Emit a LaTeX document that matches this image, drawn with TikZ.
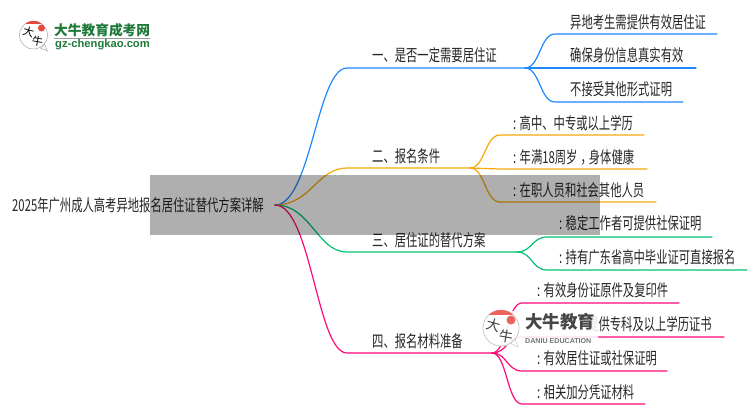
\documentclass[tikz,border=0pt]{standalone}
\usepackage{fontspec}
\setmainfont{Noto Sans CJK SC}[FakeStretch=0.686]
\newfontfamily\cjkplain{Noto Sans CJK SC}
\newfontfamily\latinbold{Liberation Sans}
\usetikzlibrary{calc}
\definecolor{cblue}{HTML}{1E88FF}
\definecolor{corange}{HTML}{F7A90C}
\definecolor{cgreen}{HTML}{00C271}
\definecolor{cpink}{HTML}{FF0A78}
\definecolor{cink}{HTML}{262626}
\definecolor{logogreen}{HTML}{1F7A3A}
\definecolor{logored}{HTML}{E8483F}
\tikzset{
  txt/.style={anchor=west,inner sep=0pt,text=cink,font=\fontsize{16.5}{16.5}\selectfont,text height=14pt,text depth=1.5pt},
  link/.style={line width=1.2pt,line cap=round},
  bubble/.style={draw=black!35,line width=.5pt,fill=white},
}
\newcommand{\trunkline}[3]{\draw[link,#1] (root) .. controls +(36,0) and +(-30,0) .. (#2) -- (#3);}
\newcommand{\leafline}[4]{\draw[link,#1] (#2) .. controls +(15,0) and +(-15,0) .. (#3) -- (#4);}
\begin{document}
\begin{tikzpicture}[x=1pt,y=-1pt]
\useasboundingbox (0,0) rectangle (750,410);
\fill[white] (0,0) rectangle (750,410);

% named points of the map
\coordinate (root) at (275,205);
\coordinate (a1) at (347,68);  \coordinate (j1) at (525,68);
\coordinate (a2) at (347,168); \coordinate (j2) at (470,168);
\coordinate (a3) at (347,252); \coordinate (j3) at (517,252);
\coordinate (a4) at (347,353); \coordinate (j4) at (492,353);

\coordinate (l11s) at (555,34);  \coordinate (l11e) at (717,34);
\coordinate (l12s) at (555,68);  \coordinate (l12e) at (696,68);
\coordinate (l13s) at (555,102); \coordinate (l13e) at (683,102);
\coordinate (l21s) at (500,135); \coordinate (l21e) at (644,135);
\coordinate (l22s) at (500,169); \coordinate (l22e) at (647,169);
\coordinate (l23s) at (500,202); \coordinate (l23e) at (656,202);
\coordinate (l31s) at (547,237); \coordinate (l31e) at (712,237);
\coordinate (l32s) at (547,270); \coordinate (l32e) at (747,270);
\coordinate (l41s) at (522,303); \coordinate (l41e) at (679,303);
\coordinate (l42s) at (522,337); \coordinate (l42e) at (724,337);
\coordinate (l43s) at (522,371); \coordinate (l43e) at (667,371);
\coordinate (l44s) at (522,404); \coordinate (l44e) at (645,404);

% connectors
\trunkline{cblue}{a1}{j1}
\trunkline{corange}{a2}{j2}
\trunkline{cgreen}{a3}{j3}
\trunkline{cpink}{a4}{j4}
\leafline{cblue}{j1}{l11s}{l11e}
\leafline{cblue}{j1}{l12s}{l12e}
\leafline{cblue}{j1}{l13s}{l13e}
\leafline{corange}{j2}{l21s}{l21e}
\leafline{corange}{j2}{l22s}{l22e}
\leafline{corange}{j2}{l23s}{l23e}
\leafline{cgreen}{j3}{l31s}{l31e}
\leafline{cgreen}{j3}{l32s}{l32e}
\leafline{cpink}{j4}{l41s}{l41e}
\leafline{cpink}{j4}{l42s}{l42e}
\leafline{cpink}{j4}{l43s}{l43e}
\leafline{cpink}{j4}{l44s}{l44e}

% texts
\node[txt] (t0) at (12,205) {2025年广州成人高考异地报名居住证替代方案详解};
\node[txt] (b1) at (372,55)  {一、是否一定需要居住证};
\node[txt] (b2) at (372,156) {二、报名条件};
\node[txt] (b3) at (372,240) {三、居住证的替代方案};
\node[txt] (b4) at (372,341) {四、报名材料准备};
\node[txt] (n11) at (570,22) {异地考生需提供有效居住证};
\node[txt] (n12) at (570,55) {确保身份信息真实有效};
\node[txt] (n13) at (570,89) {不接受其他形式证明};
\node[txt] (n21) at (513,123) {: 高中、中专或以上学历};
\node[txt] (n22) at (513,157) {: 年满18周岁\hspace{3pt}，\hspace{-3pt}身体健康};
\node[txt] (n23) at (513,190) {: 在职人员和社会其他人员};
\node[txt] (n31) at (559,223) {: 稳定工作者可提供社保证明};
\node[txt] (n32) at (559,257) {: 持有广东省高中毕业证可直接报名};
\node[txt] (n41) at (537,290) {: 有效身份证原件及复印件};
\node[txt,anchor=east] (n42) at (712,324) {: 提供专科及以上学历证书};
\node[txt] (n43) at (537,358) {: 有效居住证或社保证明};
\node[txt] (n44) at (537,392) {: 相关加分凭证材料};

% top-left logo
\coordinate (lg) at (33.5,35);
\fill[bubble] ($(lg)+(7,13)$) -- ($(lg)+(14,16)$) -- ($(lg)+(11,9)$) -- cycle;
\draw[bubble] (lg) circle (14);
\begin{scope}
  \clip (lg) circle (14);
  \fill[logored] ($(lg)+(-15,-15)$) rectangle ($(lg)+(15,-11)$);
  \fill[logored] ($(lg)+(8,-7)$) circle (3.5);
\end{scope}
\node[inner sep=0pt,rotate=-15,text=black,font=\cjkplain\fontsize{11}{11}\selectfont] (lgA) at ($(lg)+(-5,-3)$) {大};
\node[inner sep=0pt,rotate=-10,text=black,font=\cjkplain\fontsize{11}{11}\selectfont] (lgB) at ($(lg)+(4,6)$) {牛};
\node[anchor=west,inner sep=0pt,text=logogreen,font=\cjkplain\bfseries\fontsize{13.7}{14}\selectfont] (lgT) at (54,30) {大牛教育成考网};
\draw[black!40,line width=.8pt] (54,38.7) -- (150,38.7);
\node[anchor=west,inner sep=0pt,text=logogreen,font=\latinbold\bfseries\fontsize{11.2}{12}\selectfont] (lgU) at (55,45) {gz-chengkao.com};

% lower watermark logo
\fill[white,opacity=.88] (482,311) rectangle (598,346);
\coordinate (wm) at (501,328);
\fill[bubble,draw=black!20] ($(wm)+(9,15)$) -- ($(wm)+(17,19)$) -- ($(wm)+(14,10)$) -- cycle;
\draw[black!25,line width=.6pt,fill=white,fill opacity=.5] (wm) circle (18);
\begin{scope}
  \clip (wm) circle (18);
  \fill[logored!85] ($(wm)+(-19,-19)$) rectangle ($(wm)+(19,-13)$);
  \fill[logored!85] ($(wm)+(10,-8)$) circle (4.5);
\end{scope}
\node[inner sep=0pt,rotate=-15,text=black!75,font=\cjkplain\fontsize{14}{14}\selectfont] (wmA) at ($(wm)+(-7,-3)$) {大};
\node[inner sep=0pt,rotate=-10,text=black!75,font=\cjkplain\fontsize{14}{14}\selectfont] (wmB) at ($(wm)+(5,8)$) {牛};
\node[anchor=west,inner sep=0pt,text=black!72,font=\cjkplain\bfseries\fontsize{17.5}{18}\selectfont] (wmT) at (525,322) {大牛教育};
\node[anchor=west,inner sep=0pt,text=black!55,font=\latinbold\bfseries\fontsize{7.1}{8}\selectfont] (wmU) at (525,341) {DANIU EDUCATION};

% translucent grey band
\fill[black,opacity=.314] (150,175) rectangle (600,235);
\end{tikzpicture}
\end{document}
